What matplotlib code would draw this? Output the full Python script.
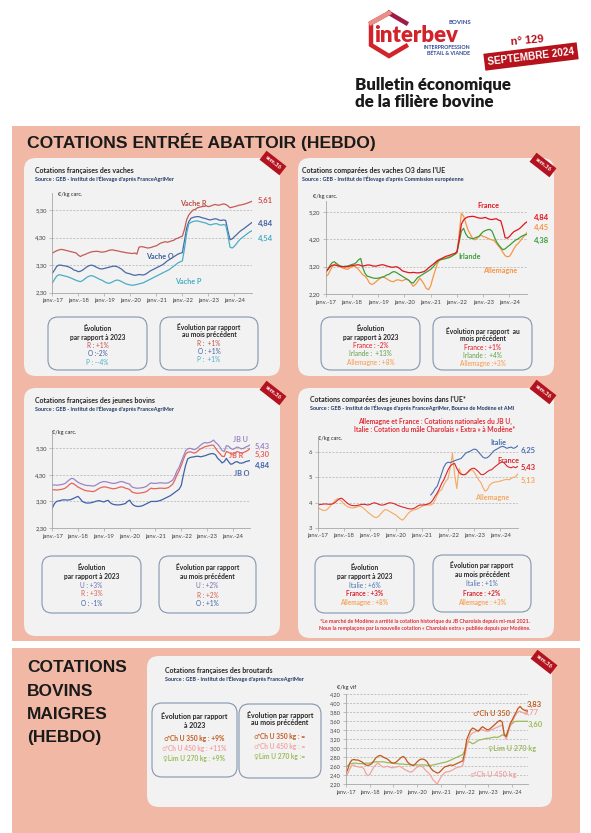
import numpy as np
import matplotlib.pyplot as plt
from matplotlib.patches import FancyBboxPatch, Rectangle

plt.rcParams['font.family'] = ['Lato', 'DejaVu Sans']

# ---- données mensuelles, janv. 2017 -> sept. 2024 ----
annees = ['janv.-17', 'janv.-18', 'janv.-19', 'janv.-20', 'janv.-21', 'janv.-22', 'janv.-23', 'janv.-24']

vache_r = [3.73, 3.78, 3.82, 3.85, 3.87, 3.86, 3.84, 3.82, 3.80, 3.78, 3.76, 3.74,
           3.66, 3.61, 3.66, 3.68, 3.72, 3.75, 3.78, 3.79, 3.80, 3.80, 3.78, 3.77,
           3.78, 3.80, 3.83, 3.85, 3.85, 3.83, 3.82, 3.80, 3.78, 3.77, 3.75, 3.74,
           3.73, 3.72, 3.74, 3.70, 3.95, 3.97, 3.96, 3.94, 3.92, 3.93, 3.95, 3.98,
           4.00, 4.05, 4.10, 4.12, 4.15, 4.13, 4.15, 4.18, 4.20, 4.25, 4.28, 4.32,
           4.35, 4.60, 4.95, 5.12, 5.22, 5.30, 5.32, 5.38, 5.40, 5.42, 5.43, 5.45,
           5.42, 5.44, 5.47, 5.50, 5.48, 5.47, 5.50, 5.52, 5.50, 5.45, 5.38, 5.40,
           5.42, 5.44, 5.47, 5.48, 5.50, 5.52, 5.55, 5.58, 5.61]
vache_o = [3.00, 3.12, 3.25, 3.30, 3.30, 3.28, 3.27, 3.25, 3.22, 3.18, 3.12, 3.10,
           3.06, 3.08, 3.12, 3.18, 3.24, 3.28, 3.30, 3.28, 3.24, 3.20, 3.17, 3.16,
           3.18, 3.20, 3.22, 3.24, 3.26, 3.26, 3.24, 3.20, 3.15, 3.08, 3.02, 3.00,
           2.98, 2.95, 2.93, 2.94, 2.96, 2.95, 2.94, 2.97, 3.02, 3.08, 3.12, 3.16,
           3.20, 3.24, 3.28, 3.32, 3.38, 3.45, 3.50, 3.55, 3.60, 3.65, 3.70, 3.73,
           3.75, 4.20, 4.65, 4.88, 5.00, 5.03, 5.05, 5.06, 5.05, 5.02, 5.00, 4.98,
           4.95, 4.94, 4.96, 4.98, 4.97, 4.93, 4.92, 4.94, 4.92, 4.55, 4.22, 4.25,
           4.33, 4.40, 4.48, 4.55, 4.60, 4.66, 4.72, 4.78, 4.84]
vache_p = [2.65, 2.78, 2.90, 2.95, 2.94, 2.92, 2.90, 2.88, 2.85, 2.82, 2.78, 2.75,
           2.72, 2.70, 2.74, 2.80, 2.86, 2.90, 2.92, 2.90, 2.86, 2.82, 2.78, 2.75,
           2.70, 2.66, 2.64, 2.66, 2.70, 2.74, 2.76, 2.74, 2.70, 2.66, 2.62, 2.60,
           2.58, 2.57, 2.58, 2.60, 2.62, 2.64, 2.66, 2.70, 2.74, 2.78, 2.82, 2.86,
           2.90, 2.94, 2.98, 3.02, 3.06, 3.10, 3.14, 3.20, 3.26, 3.32, 3.38, 3.42,
           3.45, 3.90, 4.45, 4.80, 4.85, 4.88, 4.90, 4.90, 4.88, 4.86, 4.84, 4.82,
           4.78, 4.76, 4.78, 4.80, 4.80, 4.76, 4.75, 4.77, 4.75, 4.40, 3.95, 3.92,
           3.98, 4.08, 4.18, 4.26, 4.32, 4.38, 4.44, 4.50, 4.54]

o3_france = [3.02, 3.10, 3.20, 3.25, 3.26, 3.24, 3.22, 3.20, 3.20, 3.19, 3.20, 3.22,
             3.24, 3.25, 3.26, 3.27, 3.24, 3.22, 3.24, 3.26, 3.26, 3.24, 3.22, 3.22,
             3.24, 3.26, 3.27, 3.25, 3.22, 3.20, 3.18, 3.18, 3.20, 3.18, 3.12, 3.05,
             3.02, 3.00, 2.98, 2.98, 2.99, 2.98, 2.97, 2.98, 3.00, 3.02, 3.08, 3.15,
             3.22, 3.28, 3.35, 3.42, 3.46, 3.50, 3.54, 3.58, 3.60, 3.63, 3.66, 3.68,
             3.75, 4.20, 4.75, 4.90, 4.98, 5.02, 5.03, 5.04, 5.03, 5.00, 4.98, 4.97,
             4.98, 5.00, 4.96, 4.93, 4.92, 4.94, 4.95, 4.90, 4.88, 4.60, 4.26, 4.24,
             4.30, 4.40, 4.48, 4.52, 4.56, 4.62, 4.70, 4.78, 4.84]
o3_allemagne = [2.83, 2.90, 3.05, 3.20, 3.28, 3.32, 3.25, 3.18, 3.14, 3.12, 3.10, 3.15,
                3.20, 3.22, 3.18, 3.10, 3.00, 2.90, 2.85, 2.75, 2.60, 2.55, 2.58, 2.65,
                2.72, 2.78, 2.82, 2.80, 2.75, 2.70, 2.66, 2.65, 2.70, 2.72, 2.70, 2.68,
                2.72, 2.74, 2.70, 2.60, 2.48, 2.55, 2.65, 2.78, 2.68, 2.55, 2.40, 2.36,
                2.50, 2.80, 3.05, 3.30, 3.44, 3.47, 3.50, 3.52, 3.55, 3.58, 3.60, 3.65,
                3.70, 4.40, 5.15, 5.05, 4.80, 4.55, 4.40, 4.25, 4.18, 4.22, 4.30, 4.35,
                4.30, 4.28, 4.24, 4.20, 4.18, 4.15, 4.05, 3.95, 3.85, 3.72, 3.60, 3.56,
                3.58, 3.70, 3.85, 3.98, 4.05, 4.15, 4.25, 4.35, 4.45]
o3_irlande = [2.98, 3.10, 3.25, 3.35, 3.38, 3.30, 3.25, 3.22, 3.20, 3.22, 3.22, 3.25,
              3.28, 3.30, 3.35, 3.45, 3.50, 3.15, 2.95, 2.85, 2.83, 2.80, 2.78, 2.77,
              2.78, 2.80, 2.82, 2.85, 2.90, 2.92, 2.98, 3.02, 3.00, 2.95, 2.90, 2.85,
              2.80, 2.75, 2.70, 2.62, 2.60, 2.70, 2.80, 2.85, 2.90, 2.95, 3.00, 3.05,
              3.10, 3.18, 3.28, 3.38, 3.44, 3.46, 3.48, 3.50, 3.52, 3.55, 3.60, 3.65,
              3.72, 4.10, 4.50, 4.60, 4.40, 4.28, 4.25, 4.22, 4.24, 4.28, 4.30, 4.40,
              4.48, 4.52, 4.55, 4.56, 4.50, 4.30, 4.12, 4.00, 3.90, 3.82, 3.85, 3.92,
              3.98, 4.05, 4.12, 4.18, 4.22, 4.28, 4.33, 4.36, 4.38]

jb_u = [3.92, 3.92, 3.91, 3.92, 3.93, 3.95, 3.98, 4.05, 4.12, 4.17, 4.15, 4.08,
        4.02, 3.98, 3.95, 3.92, 3.90, 3.90, 3.89, 3.88, 3.90, 3.95, 4.00, 4.03,
        4.05, 4.04, 4.02, 4.00, 3.98, 3.98, 4.00, 4.03, 4.05, 4.04, 4.00, 3.98,
        3.95, 3.85, 3.82, 3.80, 3.80, 3.81, 3.82, 3.84, 3.88, 3.95, 4.00, 3.98,
        3.98, 3.99, 4.00, 4.00, 3.99, 3.99, 4.00, 4.05, 4.10, 4.25, 4.45, 4.58,
        4.80, 5.00, 5.20, 5.28, 5.30, 5.28, 5.25, 5.28, 5.35, 5.42, 5.48, 5.52,
        5.50, 5.52, 5.55, 5.61, 5.52, 5.45, 5.35, 5.22, 5.18, 5.40, 5.38, 5.30,
        5.26, 5.30, 5.35, 5.32, 5.28, 5.30, 5.35, 5.38, 5.43]
jb_r = [3.74, 3.74, 3.73, 3.74, 3.75, 3.77, 3.80, 3.86, 3.94, 3.99, 3.96, 3.90,
        3.84, 3.80, 3.76, 3.72, 3.70, 3.69, 3.68, 3.67, 3.70, 3.75, 3.80, 3.83,
        3.85, 3.84, 3.82, 3.80, 3.78, 3.78, 3.80, 3.83, 3.85, 3.84, 3.80, 3.78,
        3.75, 3.66, 3.63, 3.61, 3.61, 3.62, 3.63, 3.65, 3.68, 3.75, 3.80, 3.78,
        3.78, 3.79, 3.80, 3.80, 3.79, 3.80, 3.82, 3.88, 3.95, 4.10, 4.30, 4.45,
        4.65, 4.88, 5.08, 5.15, 5.17, 5.15, 5.12, 5.15, 5.22, 5.28, 5.32, 5.36,
        5.38, 5.40, 5.42, 5.42, 5.30, 5.18, 5.10, 5.00, 4.99, 5.18, 5.15, 5.10,
        5.08, 5.12, 5.18, 5.15, 5.12, 5.14, 5.18, 5.22, 5.30]
jb_o = [3.05, 3.22, 3.30, 3.32, 3.34, 3.36, 3.36, 3.35, 3.36, 3.38, 3.42, 3.46,
        3.49, 3.40, 3.30, 3.26, 3.24, 3.24, 3.25, 3.27, 3.30, 3.32, 3.33, 3.30,
        3.28, 3.32, 3.34, 3.25, 3.20, 3.18, 3.17, 3.17, 3.18, 3.20, 3.22, 3.30,
        3.35, 3.22, 3.15, 3.12, 3.11, 3.12, 3.14, 3.18, 3.22, 3.26, 3.30, 3.30,
        3.30, 3.31, 3.33, 3.36, 3.40, 3.44, 3.48, 3.52, 3.58, 3.64, 3.70, 3.76,
        3.90, 4.30, 4.65, 4.90, 4.95, 4.97, 4.98, 5.00, 5.00, 4.98, 5.00, 5.02,
        5.05, 5.08, 5.10, 5.10, 5.05, 4.92, 4.85, 4.75, 4.80, 4.92, 4.80, 4.70,
        4.72, 4.78, 4.80, 4.75, 4.74, 4.76, 4.80, 4.82, 4.84]

ue_france = [3.90, 3.92, 3.93, 3.94, 3.94, 3.93, 3.93, 3.95, 4.00, 4.08, 4.15, 4.17,
             4.10, 4.02, 3.95, 3.90, 3.88, 3.87, 3.88, 3.90, 3.92, 3.93, 3.92, 3.90,
             3.92, 3.96, 3.99, 3.97, 3.93, 3.90, 3.90, 3.92, 3.96, 3.99, 3.98, 3.96,
             3.92, 3.88, 3.85, 3.82, 3.80, 3.77, 3.75, 3.74, 3.76, 3.80, 3.86, 3.90,
             3.90, 3.91, 3.92, 3.95, 4.00, 4.10, 4.25, 4.38, 4.55, 4.75, 4.90, 5.10,
             5.30, 5.45, 5.52, 5.55, 5.35, 5.20, 5.12, 5.10, 5.12, 5.20, 5.30, 5.35,
             5.36, 5.30, 5.22, 5.12, 5.10, 5.15, 5.22, 5.28, 5.30, 5.38, 5.45, 5.52,
             5.58, 5.62, 5.55, 5.45, 5.40, 5.38, 5.42, 5.38, 5.43]
ue_allemagne = [3.80, 3.75, 3.70, 3.68, 3.70, 3.78, 3.88, 3.98, 4.08, 4.15, 4.12, 4.05,
                3.95, 3.88, 3.82, 3.80, 3.78, 3.80, 3.82, 3.85, 3.84, 3.78, 3.70, 3.62,
                3.55, 3.48, 3.42, 3.40, 3.45, 3.55, 3.65, 3.72, 3.70, 3.65, 3.60, 3.55,
                3.50, 3.42, 3.35, 3.30, 3.38, 3.50, 3.60, 3.66, 3.70, 3.72, 3.75, 3.80,
                3.85, 3.88, 3.90, 3.90, 3.90, 3.95, 4.10, 4.30, 4.45, 4.50, 4.70, 4.85,
                4.95, 5.40, 5.96, 5.10, 4.55, 5.35, 5.15, 5.10, 5.10, 5.20, 5.25, 5.30,
                5.20, 5.05, 4.90, 4.80, 4.60, 4.45, 4.50, 4.68, 4.76, 4.80, 4.82, 4.83,
                4.85, 4.88, 4.90, 4.92, 4.90, 4.95, 5.00, 5.02, 5.13]
italie_debut = 52  # cotation Charolais extra publiée depuis mai 2021
ue_italie = [4.30, 4.40, 4.55, 4.65, 4.90, 5.15, 5.40, 5.55, 5.60, 5.58, 5.62, 5.66,
             5.69, 5.72, 5.75, 5.85, 5.95, 6.00, 6.03, 6.08, 6.12, 6.10, 6.00, 5.90,
             5.80, 5.76, 5.78, 5.85, 5.95, 6.05, 6.10, 6.15, 6.20, 6.23, 6.20, 6.15,
             6.18, 6.20, 6.15, 6.18, 6.25]

ch_u_350 = [2.44, 2.55, 2.68, 2.74, 2.75, 2.74, 2.74, 2.72, 2.70, 2.66, 2.63, 2.62,
            2.63, 2.66, 2.72, 2.78, 2.82, 2.84, 2.83, 2.80, 2.78, 2.76, 2.72, 2.68,
            2.67, 2.68, 2.72, 2.76, 2.80, 2.82, 2.78, 2.70, 2.66, 2.63, 2.62, 2.65,
            2.70, 2.74, 2.76, 2.76, 2.74, 2.70, 2.62, 2.55, 2.50, 2.48, 2.45, 2.46,
            2.50, 2.55, 2.59, 2.60, 2.62, 2.63, 2.62, 2.64, 2.66, 2.68, 2.70, 2.72,
            2.90, 3.19, 3.30, 3.40, 3.45, 3.43, 3.40, 3.38, 3.44, 3.48, 3.45, 3.42,
            3.41, 3.44, 3.48, 3.52, 3.56, 3.60, 3.62, 3.58, 3.30, 3.26, 3.40, 3.55,
            3.63, 3.72, 3.80, 3.89, 3.93, 3.88, 3.85, 3.83, 3.83]
ch_u_450 = [2.37, 2.45, 2.55, 2.62, 2.63, 2.60, 2.59, 2.58, 2.58, 2.55, 2.45, 2.39,
            2.42, 2.50, 2.58, 2.63, 2.67, 2.64, 2.60, 2.58, 2.59, 2.60, 2.58, 2.57,
            2.57, 2.58, 2.59, 2.60, 2.58, 2.55, 2.52, 2.50, 2.48, 2.47, 2.50, 2.55,
            2.58, 2.60, 2.60, 2.58, 2.52, 2.48, 2.44, 2.38, 2.30, 2.26, 2.20, 2.28,
            2.36, 2.42, 2.46, 2.48, 2.48, 2.50, 2.52, 2.55, 2.57, 2.58, 2.59, 2.62,
            2.80, 3.04, 3.20, 3.30, 3.34, 3.36, 3.38, 3.40, 3.41, 3.41, 3.39, 3.38,
            3.38, 3.40, 3.42, 3.44, 3.46, 3.48, 3.50, 3.52, 3.30, 3.20, 3.35, 3.50,
            3.58, 3.68, 3.76, 3.81, 3.82, 3.80, 3.78, 3.77, 3.77]
lim_u_270 = [2.59, 2.62, 2.65, 2.66, 2.67, 2.67, 2.66, 2.66, 2.66, 2.66, 2.67, 2.67,
             2.67, 2.68, 2.69, 2.70, 2.70, 2.70, 2.70, 2.70, 2.69, 2.68, 2.68, 2.67,
             2.67, 2.66, 2.66, 2.65, 2.65, 2.65, 2.64, 2.64, 2.64, 2.63, 2.63, 2.63,
             2.63, 2.63, 2.63, 2.63, 2.63, 2.62, 2.62, 2.62, 2.63, 2.64, 2.65, 2.66,
             2.67, 2.68, 2.69, 2.70, 2.72, 2.74, 2.76, 2.78, 2.80, 2.82, 2.84, 2.86,
             2.95, 3.11, 3.15, 3.13, 3.10, 3.12, 3.15, 3.18, 3.19, 3.20, 3.21, 3.22,
             3.22, 3.23, 3.24, 3.25, 3.24, 3.25, 3.27, 3.30, 3.28, 3.30, 3.40, 3.50,
             3.55, 3.59, 3.60, 3.60, 3.60, 3.60, 3.60, 3.60, 3.60]

mois = np.arange(len(vache_r))

# ---- couleurs ----
SAUMON = '#F1B9A5'
PANNEAU = '#F2F2F2'
ROUGE_SEM = '#B3121F'
C_R, C_O, C_P = '#C65A55', '#4A69A5', '#4BACC6'
C_FR, C_ALL, C_IRL = '#E2141C', '#F79646', '#3E9E3A'
C_JBU, C_JBR, C_JBO = '#9A86C6', '#E5645A', '#3F62A8'
C_IT, C_FR2, C_ALL2 = '#4A6FAF', '#D9262E', '#F6A860'
C_350, C_450, C_270 = '#C0581C', '#F2A3A3', '#9BBB59'

W, H = 591, 833
fig = plt.figure(figsize=(W / 100, H / 100), dpi=100)
bg = fig.add_axes([0, 0, 1, 1])
bg.set_xlim(0, W)
bg.set_ylim(H, 0)
bg.axis('off')


def txt(x, y, s, size, color='#262626', weight='bold', ha='left', **kw):
    bg.text(x, y, s, fontsize=size, color=color, fontweight=weight, ha=ha, va='center', **kw)


def rbox(x0, y0, x1, y1, fc, ec='none', r=10, lw=0.8):
    bg.add_patch(FancyBboxPatch((x0, y0), x1 - x0, y1 - y0,
                                boxstyle=f'round,pad=0,rounding_size={r}',
                                fc=fc, ec=ec, lw=lw))


def tag(x, y):
    txt(x, y, 'sem.36', 4.2, color='white', ha='center', rotation=-38,
        bbox=dict(boxstyle='square,pad=0.55', fc=ROUGE_SEM, ec='none'))


def chart_ax(x0, x1, ytop, ybot):
    return fig.add_axes([x0 / W, 1 - ybot / H, (x1 - x0) / W, (ybot - ytop) / H])


def style(ax, lo, hi, ticks, labels, fs=4.2):
    ax.set_facecolor('none')
    ax.set_xlim(0, 92)
    ax.set_ylim(lo, hi)
    ax.spines[['top', 'right']].set_visible(False)
    for s in ['left', 'bottom']:
        ax.spines[s].set_color('#A6A6A6')
        ax.spines[s].set_linewidth(0.6)
    ax.set_yticks(ticks)
    ax.set_yticklabels(labels, fontsize=fs, color='#404040')
    ax.set_xticks(np.arange(0, 85, 12))
    ax.set_xticklabels(annees, fontsize=fs, color='#404040')
    ax.tick_params(length=2, width=0.5, color='#A6A6A6', pad=2)
    for v in ticks[1:]:
        ax.axhline(v, color='#B0B0B0', lw=0.5, ls=(0, (3, 2)), zorder=0)


# ---- en-tête ----
bg.plot([389, 371, 371, 389, 406], [13, 23, 45, 56, 46], color='#D2232A', lw=3.2,
        solid_joinstyle='miter')
bg.plot([389, 406], [13, 23], color='#9E1B48', lw=3.2)
bg.plot([371, 389], [23, 13], color='#E98F8A', lw=3.2)
txt(374, 35, 'interbev', 16, color='#D2232A', weight='heavy')
txt(471, 22, 'BOVINS', 4.3, color='#2E4A9A', ha='right')
txt(470, 47, 'INTERPROFESSION', 3.8, color='#2E4A9A', ha='right')
txt(470, 53.5, 'BÉTAIL & VIANDE', 3.8, color='#2E4A9A', ha='right')
txt(527, 41, 'n° 129', 8, color='#B5121B', ha='center', rotation=5,
    family=['Liberation Sans Narrow', 'Liberation Sans'])
bg.add_patch(Rectangle((484, 48), 94, 17, angle=-7, rotation_point='center',
                       fc='#B5121B', ec='none'))
txt(531, 56.5, 'SEPTEMBRE 2024', 7.2, color='white', ha='center', rotation=7,
    family=['Liberation Sans Narrow', 'Liberation Sans'])
txt(355, 85, 'Bulletin économique', 12.2, color='#1A1A1A', weight='heavy')
txt(355, 102, 'de la filière bovine', 12.2, color='#1A1A1A', weight='heavy')

# ---- blocs saumon ----
bg.add_patch(Rectangle((12, 126), 568, 515, fc=SAUMON, ec='none'))
bg.add_patch(Rectangle((12, 648), 568, 185, fc=SAUMON, ec='none'))
txt(27, 142, 'COTATIONS ENTRÉE ABATTOIR (HEBDO)', 12.6, color='#1A1A1A',
    family=['Liberation Sans Narrow', 'Liberation Sans'])
for i, mot in enumerate(['COTATIONS', 'BOVINS', 'MAIGRES', '(HEBDO)']):
    txt(27, 668 + i * 23.3, mot, 12.5, color='#1A1A1A', family=['Liberation Sans'])

# panneaux
rbox(24, 158, 280, 376, PANNEAU, r=12)
rbox(298, 158, 554, 376, PANNEAU, r=12)
rbox(24, 388, 280, 636, PANNEAU, r=12)
rbox(298, 388, 554, 638, PANNEAU, r=12)
rbox(147, 656, 552, 807, PANNEAU, r=12)
for x, y in [(273, 163), (543, 165), (273, 393), (543, 392), (544, 662)]:
    tag(x, y)

EC = '#8497B0'
DARK = '#262626'
SRC = '#1F3864'

# ---- 1 : vaches ----
txt(35, 170, 'Cotations françaises des vaches', 5.0, color=DARK)
txt(35, 178.5, "Source : GEB - Institut de l'Élevage d'après FranceAgriMer", 3.9, color=SRC)
txt(58, 194.5, '€/kg carc.', 4.1, color=DARK, weight='normal')
ax1 = chart_ax(52.3, 251.7, 193.4, 292.7)
style(ax1, 2.3, 5.9, [2.3, 3.3, 4.3, 5.3], ['2,30', '3,30', '4,30', '5,30'])
ax1.plot(mois, vache_r, color=C_R, lw=0.9)
ax1.plot(mois, vache_o, color=C_O, lw=0.9)
ax1.plot(mois, vache_p, color=C_P, lw=0.9)
txt(180, 203, 'Vache R', 5.2, color='#C0504D')
txt(146, 256, 'Vache O', 5.2, color='#3F5F9F')
txt(175, 281, 'Vache P', 5.2, color=C_P)
txt(258, 200, '5,61', 5.5, color='#D0504D')
txt(258, 223, '4,84', 5.5, color='#3F5F9F')
txt(258, 238, '4,54', 5.5, color=C_P)
rbox(48, 317, 147, 370, 'none', ec=EC)
rbox(160, 317, 258, 370, 'none', ec=EC)
txt(97.5, 328, 'Évolution', 4.8, color=DARK, ha='center')
txt(97.5, 337.5, 'par rapport à 2023', 4.8, color=DARK, ha='center')
txt(97.5, 345, 'R : +1%', 4.7, color='#C0504D', weight='normal', ha='center')
txt(97.5, 353, 'O :-2%', 4.7, color='#3F5F9F', weight='normal', ha='center')
txt(97.5, 362, 'P : --4%', 4.7, color=C_P, weight='normal', ha='center')
txt(209, 327, 'Évolution par rapport', 4.8, color=DARK, ha='center')
txt(209, 334.5, 'au mois précédent', 4.8, color=DARK, ha='center')
txt(209, 343, 'R :  +1%', 4.7, color='#C0504D', weight='normal', ha='center')
txt(209, 351.5, 'O : +1%', 4.7, color='#3F5F9F', weight='normal', ha='center')
txt(209, 359.5, 'P :  +1%', 4.7, color=C_P, weight='normal', ha='center')

# ---- 2 : vaches O3 UE ----
txt(302, 170, "Cotations comparées des vaches O3 dans l'UE", 5.0, color=DARK)
txt(302, 178.5, "Source : GEB - Institut de l'Élevage d'après Commission européenne", 3.9, color=SRC)
txt(313, 196, '€/kg carc.', 4.1, color=DARK, weight='normal')
ax2 = chart_ax(325.7, 527, 201, 294)
style(ax2, 2.2, 5.6, [2.2, 3.2, 4.2, 5.2], ['2,20', '3,20', '4,20', '5,20'])
ax2.plot(mois, o3_allemagne, color=C_ALL, lw=0.9)
ax2.plot(mois, o3_irlande, color=C_IRL, lw=0.9)
ax2.plot(mois, o3_france, color=C_FR, lw=0.9)
txt(477, 205, 'France', 5.2, color=C_FR)
txt(458, 256, 'Irlande', 5.2, color=C_IRL)
txt(483, 270, 'Allemagne', 5.2, color=C_ALL)
txt(534, 217, '4,84', 5.5, color=C_FR)
txt(534, 227.5, '4,45', 5.5, color=C_ALL)
txt(534, 240, '4,38', 5.5, color=C_IRL)
rbox(321, 317, 420, 370, 'none', ec=EC)
rbox(433, 317, 532, 370, 'none', ec=EC)
txt(370.5, 328, 'Évolution', 4.8, color=DARK, ha='center')
txt(370.5, 337, 'par rapport à 2023', 4.8, color=DARK, ha='center')
txt(370.5, 345.5, 'France : -2%', 4.7, color=C_FR, weight='normal', ha='center')
txt(370.5, 353.5, 'Irlande :  +13%', 4.7, color='#5E9E44', weight='normal', ha='center')
txt(370.5, 362, 'Allemagne : +8%', 4.7, color=C_ALL, weight='normal', ha='center')
txt(482.5, 331, 'Évolution par rapport  au', 4.8, color=DARK, ha='center')
txt(482.5, 338.5, 'mois précédent', 4.8, color=DARK, ha='center')
txt(482.5, 347, 'France : +1%', 4.7, color=C_FR, weight='normal', ha='center')
txt(482.5, 355, 'Irlande :  +4%', 4.7, color='#5E9E44', weight='normal', ha='center')
txt(482.5, 363, 'Allemagne :+3%', 4.7, color=C_ALL, weight='normal', ha='center')

# ---- 3 : jeunes bovins ----
txt(35, 400, 'Cotations françaises des jeunes bovins', 5.0, color=DARK)
txt(35, 409, "Source : GEB - Institut de l'Élevage d'après FranceAgriMer", 3.9, color=SRC)
txt(52, 432, '€/kg carc.', 4.1, color=DARK, weight='normal')
ax3 = chart_ax(52.3, 250, 432.4, 528)
style(ax3, 2.3, 5.9, [2.3, 3.3, 4.3, 5.3], ['2,30', '3,30', '4,30', '5,30'])
ax3.plot(mois, jb_o, color=C_JBO, lw=0.9)
ax3.plot(mois, jb_r, color=C_JBR, lw=0.9)
ax3.plot(mois, jb_u, color=C_JBU, lw=0.9)
txt(233, 439, 'JB U', 5.2, color=C_JBU)
txt(229, 455, 'JB R', 5.2, color=C_JBR)
txt(234, 473, 'JB O', 5.2, color=C_JBO)
txt(255, 446.5, '5,43', 5.5, color=C_JBU)
txt(255, 454, '5,30', 5.5, color=C_JBR)
txt(255, 465, '4,84', 5.5, color=C_JBO)
rbox(42, 556, 141, 613, 'none', ec=EC)
rbox(159, 556, 256, 613, 'none', ec=EC)
txt(91.5, 567, 'Évolution', 4.8, color=DARK, ha='center')
txt(91.5, 576, 'par rapport à 2023', 4.8, color=DARK, ha='center')
txt(91.5, 585, 'U : +3%', 4.7, color='#6F6FB0', weight='normal', ha='center')
txt(91.5, 594, 'R : +3%', 4.7, color='#D9604A', weight='normal', ha='center')
txt(91.5, 603.5, 'O : -1%', 4.7, color=C_JBO, weight='normal', ha='center')
txt(207.5, 567, 'Évolution par rapport', 4.8, color=DARK, ha='center')
txt(207.5, 577, 'au mois précédent', 4.8, color=DARK, ha='center')
txt(207.5, 586, 'U : +2%', 4.7, color='#6F6FB0', weight='normal', ha='center')
txt(207.5, 595, 'R : +2%', 4.7, color='#D9604A', weight='normal', ha='center')
txt(207.5, 604, 'O : +1%', 4.7, color=C_JBO, weight='normal', ha='center')

# ---- 4 : jeunes bovins UE ----
txt(310, 399, "Cotations comparées des jeunes bovins dans l'UE*", 5.0, color=DARK)
txt(310, 408, "Source : GEB - Institut de l'Élevage d'après FranceAgriMer, Bourse de Modène et AMI",
    3.9, color=SRC)
txt(435, 421.5, 'Allemagne et France : Cotations nationales du JB U,', 4.9, color='#E0303A', ha='center')
txt(435, 429, 'Italie : Cotation du mâle Charolais « Extra » à Modène*', 4.9, color='#E0303A', ha='center')
txt(318, 438.5, '€/kg carc.', 4.1, color=DARK, weight='normal')
ax4 = chart_ax(317.7, 517.7, 437, 527.7)
style(ax4, 3, 6.6, [3, 4, 5, 6], ['3', '4', '5', '6'])
ax4.plot(mois, ue_allemagne, color=C_ALL2, lw=0.8)
ax4.plot(mois, ue_france, color=C_FR2, lw=0.8)
ax4.plot(mois[italie_debut:], ue_italie, color=C_IT, lw=0.8)
txt(490, 442, 'Italie', 5.2, color=C_IT)
txt(497, 460, 'France', 5.2, color=C_FR2)
txt(475, 497, 'Allemagne', 5.2, color=C_ALL2)
txt(521, 450, '6,25', 5.5, color=C_IT)
txt(521, 467, '5,43', 5.5, color=C_FR2)
txt(521, 480, '5,13', 5.5, color=C_ALL2)
rbox(315, 556, 414, 613, 'none', ec=EC)
rbox(433, 555, 531, 612, 'none', ec=EC)
txt(364.5, 567, 'Évolution', 4.8, color=DARK, ha='center')
txt(364.5, 577, 'par rapport à 2023', 4.8, color=DARK, ha='center')
txt(364.5, 585.5, 'Italie : +6%', 4.7, color=C_IT, weight='normal', ha='center')
txt(364.5, 594, 'France : +3%', 4.7, color=C_FR2, ha='center')
txt(364.5, 603, 'Allemagne : +8%', 4.7, color=C_ALL2, ha='center')
txt(482, 565, 'Évolution par rapport', 4.8, color=DARK, ha='center')
txt(482, 575, 'au mois précédent', 4.8, color=DARK, ha='center')
txt(482, 584, 'Italie : +1%', 4.7, color=C_IT, weight='normal', ha='center')
txt(482, 593, 'France : +2%', 4.7, color=C_FR2, ha='center')
txt(482, 602, 'Allemagne : +3%', 4.7, color=C_ALL2, ha='center')
txt(425, 621.5, '*Le marché de Modène a arrêté la cotation historique du JB Charolais depuis mi-mai 2021.',
    3.8, color='#E0303A', ha='center')
txt(425, 628.5, 'Nous la remplaçons par la nouvelle cotation « Charolais extra » publiée depuis par Modène.',
    3.8, color='#E0303A', ha='center')

# ---- 5 : broutards ----
txt(165, 670, 'Cotations françaises des broutards', 5.0, color=DARK)
txt(165, 679, "Source : GEB - Institut de l'Élevage d'après FranceAgriMer", 3.9, color=SRC)
txt(337, 688, '€/kg vif', 4.1, color=DARK, weight='normal')
ax5 = chart_ax(346, 528, 694.3, 784.3)
yt5 = [2.2, 2.4, 2.6, 2.8, 3.0, 3.2, 3.4, 3.6, 3.8, 4.0, 4.2]
style(ax5, 2.2, 4.2, yt5, [f'{v:.2f}'.replace('.', ',') for v in yt5], fs=4.0)
ax5.plot(mois, lim_u_270, color=C_270, lw=0.9)
ax5.plot(mois, ch_u_450, color=C_450, lw=0.9)
ax5.plot(mois, ch_u_350, color=C_350, lw=0.9)
txt(473, 714, '♂Ch U 350', 5.2, color=C_350)
txt(470, 774, '♂Ch U 450 kg', 5.2, color=C_450)
txt(488, 749, '♀Lim U 270 kg', 5.2, color=C_270)
txt(527, 704, '3,83', 5.5, color=C_350)
txt(524, 712, '3,77', 5.5, color=C_450)
txt(528, 724, '3,60', 5.5, color=C_270)
rbox(152, 703, 237, 777, 'none', ec=EC)
rbox(239, 704, 321, 778, 'none', ec=EC)
txt(194.5, 716, 'Évolution par rapport', 5, color=DARK, ha='center')
txt(194.5, 726, 'à 2023', 5, color=DARK, ha='center')
txt(194.5, 739, '♂Ch U 350 kg : +9%', 4.8, color=C_350, ha='center')
txt(194.5, 749, '♂Ch U 450 kg : +11%', 4.8, color=C_450, ha='center')
txt(194.5, 759, '♀Lim U 270 kg : +9%', 4.8, color=C_270, ha='center')
txt(280, 715, 'Évolution par rapport', 5, color=DARK, ha='center')
txt(280, 723, 'au mois précédent', 5, color=DARK, ha='center')
txt(280, 737, '♂Ch U 350 kg : =', 4.8, color=C_350, ha='center')
txt(280, 747, '♂Ch U 450 kg : =', 4.8, color=C_450, ha='center')
txt(280, 757, '♀Lim U 270 kg :=', 4.8, color=C_270, ha='center')

fig.savefig('out.png', dpi=100)
